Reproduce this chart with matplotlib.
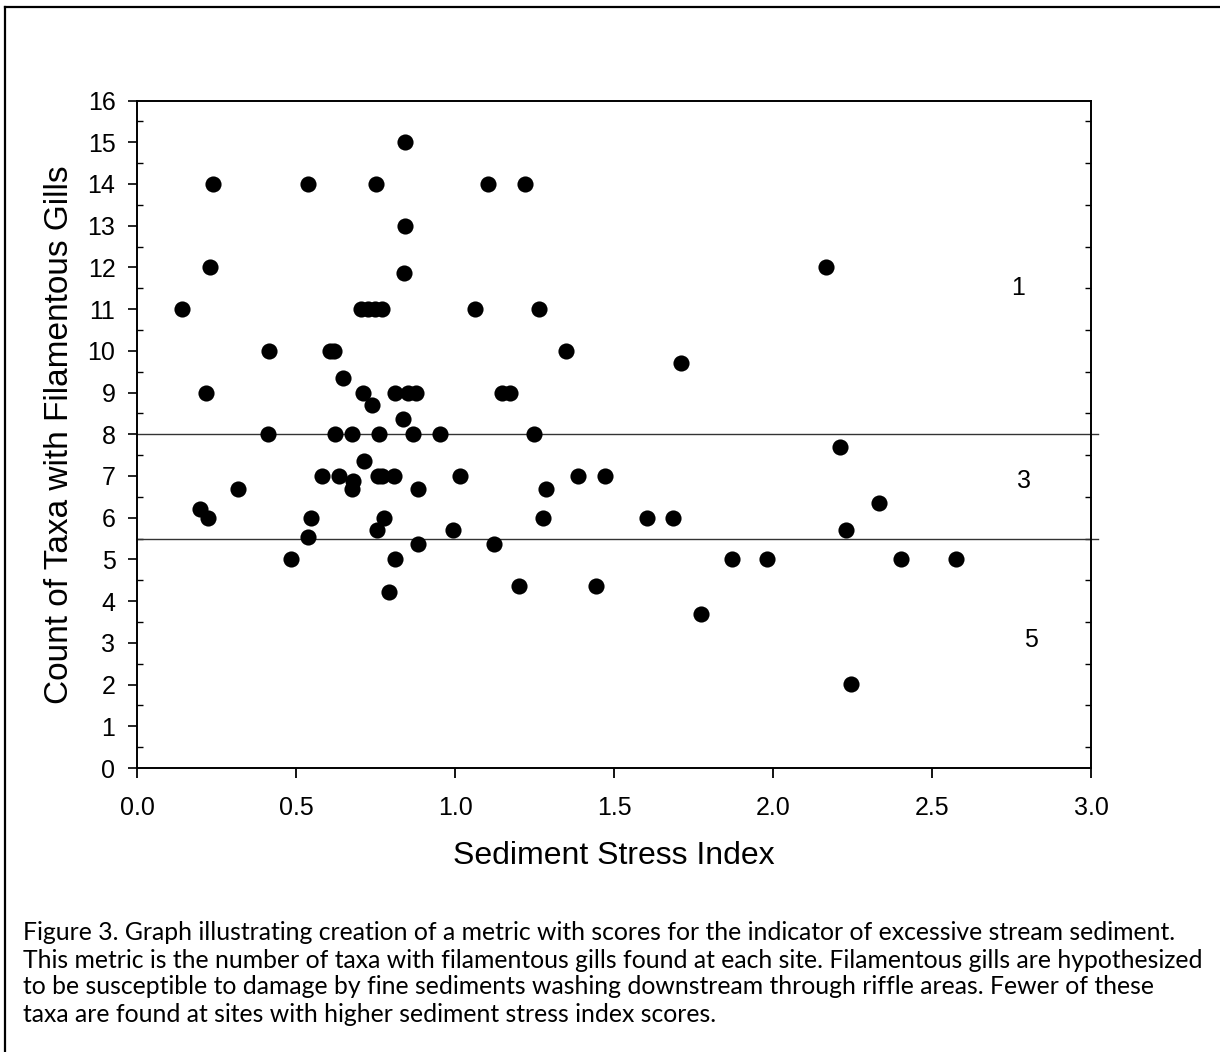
import matplotlib
matplotlib.use("Agg")
import matplotlib.pyplot as plt
from matplotlib.lines import Line2D
from matplotlib.ticker import MultipleLocator

# ---- data ----
sediment_index = [
    0.238, 0.537, 0.751, 1.105, 1.221,          # 14
    0.843,                                       # 15
    0.843,                                       # 13
    0.230, 2.167,                                # 12
    0.840,                                       # 11.86
    0.142, 0.703, 0.725, 0.749, 0.770, 1.064, 1.265,   # 11
    0.415, 0.606, 0.619, 1.348,                  # 10
    1.711,                                       # 9.70
    0.647,                                       # 9.36
    0.218, 0.711, 0.811, 0.853, 0.877, 1.149, 1.173,   # 9
    0.740,                                       # 8.69
    0.838,                                       # 8.36
    0.411, 0.623, 0.677, 0.762, 0.869, 0.952, 1.248,   # 8
    2.212,                                       # 7.70
    0.714,                                       # 7.36
    0.583, 0.636, 0.759, 0.771, 0.808, 1.016, 1.388, 1.473,  # 7
    0.680,                                       # 6.87
    0.319, 0.676, 0.885, 1.285,                  # 6.69
    2.332,                                       # 6.36
    0.198,                                       # 6.2
    0.224, 0.547, 0.778, 1.277, 1.605, 1.686,    # 6
    0.754, 0.994, 2.228,                         # 5.70
    0.537,                                       # 5.53
    0.885, 1.122,                                # 5.36
    0.485, 0.812, 1.871, 1.981, 2.404, 2.577,    # 5
    1.201, 1.443,                                # 4.36
    0.793,                                       # 4.23
    1.773,                                       # 3.70
    2.246,                                       # 2.02
]
taxa_count = [
    14, 14, 14, 14, 14,
    15,
    13,
    12, 12,
    11.86,
    11, 11, 11, 11, 11, 11, 11,
    10, 10, 10, 10,
    9.70,
    9.36,
    9, 9, 9, 9, 9, 9, 9,
    8.69,
    8.36,
    8, 8, 8, 8, 8, 8, 8,
    7.70,
    7.36,
    7, 7, 7, 7, 7, 7, 7, 7,
    6.87,
    6.69, 6.69, 6.69, 6.69,
    6.36,
    6.2,
    6, 6, 6, 6, 6, 6,
    5.70, 5.70, 5.70,
    5.53,
    5.36, 5.36,
    5, 5, 5, 5, 5, 5,
    4.36, 4.36,
    4.23,
    3.70,
    2.02,
]
thresholds = [8.0, 5.48]
score_labels = ["1", "3", "5"]
score_x = [2.77, 2.79, 2.81]
score_y = [11.5, 6.88, 3.07]
x_ticks = [0.0, 0.5, 1.0, 1.5, 2.0, 2.5, 3.0]
x_tick_labels = ["0.0", "0.5", "1.0", "1.5", "2.0", "2.5", "3.0"]
y_ticks = list(range(0, 17))

caption_lines = [
    "Figure 3. Graph illustrating creation of a metric with scores for the indicator of excessive stream sediment.",
    "This metric is the number of taxa with filamentous gills found at each site. Filamentous gills are hypothesized",
    "to be susceptible to damage by fine sediments washing downstream through riffle areas. Fewer of these",
    "taxa are found at sites with higher sediment stress index scores.",
]

# ---- figure ----
W, H, DPI = 1220, 1052, 100
plt.rcParams['font.family'] = ['Liberation Sans', 'DejaVu Sans']
fig = plt.figure(figsize=(W / DPI, H / DPI), dpi=DPI)
fig.patch.set_facecolor('white')

left_px, right_px, top_px, bottom_px = 137, 1091, 100.5, 768
ax = fig.add_axes([left_px / W, 1 - bottom_px / H,
                   (right_px - left_px) / W, (bottom_px - top_px) / H])

ax.scatter(sediment_index, taxa_count, s=135, color='black', zorder=3,
           linewidths=0, clip_on=False)

for t in thresholds:
    ax.plot([0, 3.022], [t, t], color='#333333', lw=1.0, clip_on=False, zorder=2)

for lab, sx, sy in zip(score_labels, score_x, score_y):
    ax.text(sx, sy, lab, fontsize=18, ha='center', va='center')

ax.set_xlim(0, 3.0)
ax.set_ylim(0, 16)
ax.set_xticks(x_ticks)
ax.set_xticklabels(x_tick_labels)
ax.set_yticks(y_ticks)
ax.yaxis.set_minor_locator(MultipleLocator(0.5))

for sp in ax.spines.values():
    sp.set_linewidth(1.4)
    sp.set_color('black')

ax.tick_params(axis='x', which='major', direction='out', length=7, width=1.3,
               labelsize=18, pad=13.5, top=False)
ax.tick_params(axis='y', which='major', direction='out', length=6.5, width=1.2,
               labelsize=18, pad=9, right=False)
ax.tick_params(axis='y', which='minor', direction='in', length=4.3, width=1.0,
               left=True, right=True)

ax.set_xlabel("Sediment Stress Index", fontsize=23, labelpad=15)
ax.set_ylabel("Count of Taxa with Filamentous Gills", fontsize=24, labelpad=9)

# caption
cap_font = ['Lato', 'DejaVu Sans']
target_w = 1182.0
cap_size = 15.0
probe = fig.text(0, 0, caption_lines[1], fontsize=cap_size, family=cap_font)
fig.canvas.draw()
w = probe.get_window_extent().width
probe.remove()
cap_size = cap_size * target_w / w
for i, line in enumerate(caption_lines):
    yc = 933 + 27 * i
    fig.text(23 / W, 1 - yc / H, line, fontsize=cap_size, family=cap_font,
             ha='left', va='center', color='black')

# outer border (left and top visible)
bx, by = 5 / W, 1 - 7 / H
fig.add_artist(Line2D([bx, bx], [0, by], transform=fig.transFigure,
                      color='black', lw=1.6))
fig.add_artist(Line2D([bx, 1], [by, by], transform=fig.transFigure,
                      color='black', lw=1.6))

fig.savefig("out.png", dpi=DPI, facecolor='white')
